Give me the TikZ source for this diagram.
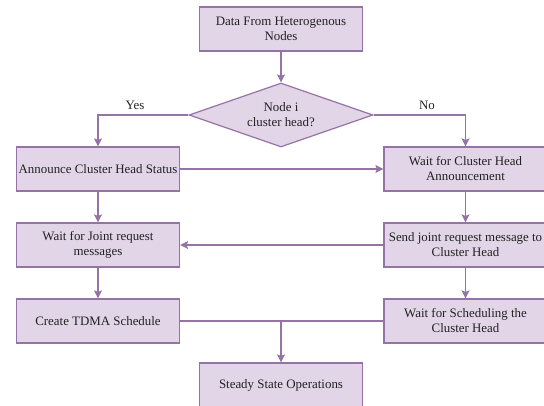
\documentclass[tikz,border=0pt]{standalone}
\usepackage{fontspec}
\setmainfont{Liberation Serif}
\usetikzlibrary{shapes.geometric,arrows.meta}
\definecolor{boxfill}{HTML}{E1D5E7}
\definecolor{boxline}{HTML}{9673A6}
\definecolor{txt}{HTML}{222222}
\tikzset{
  stepbox/.style={draw=boxline, fill=boxfill, line width=1.2pt, minimum width=163pt, minimum height=44pt, inner sep=1pt, align=center, text=txt, font=\fontsize{12.9}{15}\selectfont},
  decbox/.style={draw=boxline, fill=boxfill, line width=1.2pt, shape=diamond, aspect=2.875, minimum width=184pt, minimum height=64pt, inner sep=0pt, align=center, text=txt, font=\fontsize{12.9}{15}\selectfont},
  conn/.style={draw=boxline, line width=1.2pt},
  arr/.style={conn, -{Stealth[length=8pt,width=8pt,inset=1.5pt]}},
  lbl/.style={text=txt, font=\fontsize{12.9}{15}\selectfont, inner sep=0pt}
}
\begin{document}
\begin{tikzpicture}[x=1pt,y=-1pt]
\useasboundingbox (0,0) rectangle (544,406);
\node[stepbox] (top) at (281,29) {Data From Heterogenous\\Nodes};
\node[decbox] (dec) at (281,115) {Node i\\cluster head?};
\node[stepbox] (ann) at (98,169) {Announce Cluster Head Status};
\node[stepbox] (wch) at (465.5,169) {Wait for Cluster Head\\Announcement};
\node[stepbox] (wj) at (98,245) {Wait for Joint request\\messages};
\node[stepbox] (send) at (465.5,245) {Send joint request message to\\Cluster Head};
\node[stepbox] (tdma) at (98,321) {Create TDMA Schedule};
\node[stepbox] (ws) at (465.5,321) {Wait for Scheduling the\\Cluster Head};
\node[stepbox] (ss) at (281,385) {Steady State Operations};
\node[lbl] (yes) at (135,105) {Yes};
\node[lbl] (no) at (427,105) {No};
\coordinate (jn) at (281,321);
\draw[arr] (top) -- (dec);
\draw[arr] (dec.west) -| (ann.north);
\draw[arr] (dec.east) -| (wch.north);
\draw[arr] (ann.east) -- (wch.west);
\draw[arr] (ann) -- (wj);
\draw[arr] (wch) -- (send);
\draw[arr] (send.west) -- (wj.east);
\draw[arr] (wj) -- (tdma);
\draw[arr] (send) -- (ws);
\draw[conn] (tdma.east) -- (ws.west);
\draw[arr] (jn) -- (ss.north);
\end{tikzpicture}
\end{document}
